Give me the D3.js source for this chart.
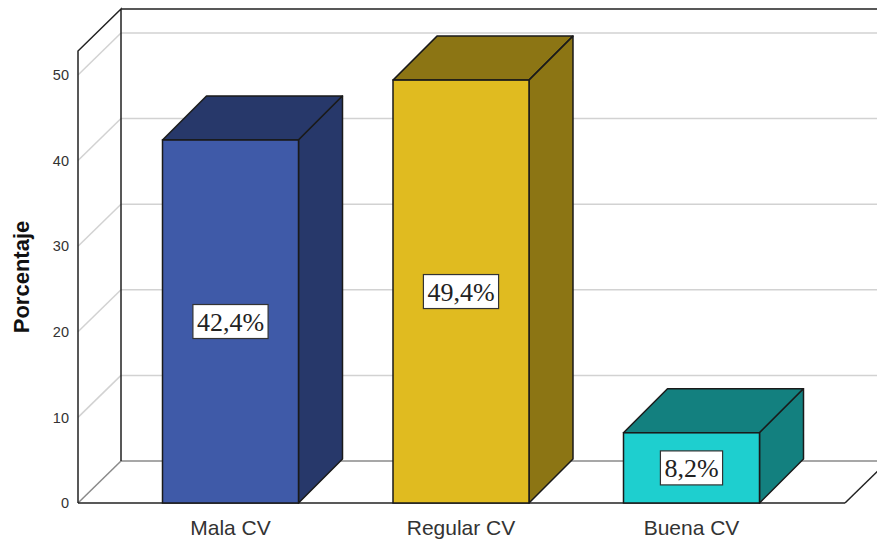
<!DOCTYPE html>
<html>
<head>
<meta charset="utf-8">
<script src="https://cdn.jsdelivr.net/npm/d3@7"></script>
<style>
  body { margin: 0; background: #fff; }
  svg { display: block; }
</style>
</head>
<body>
<div id="chart"></div>
<script>
// data
const categories = ["Mala CV", "Regular CV", "Buena CV"];
const percents = [42.4, 49.4, 8.2];
const valueLabels = ["42,4%", "49,4%", "8,2%"];
const yTicks = [0, 10, 20, 30, 40, 50];
const frontColors = ["#3f5aa8", "#e0bb20", "#1ecfcf"];
const sideColors = ["#27386a", "#8c7514", "#13807f"];

const width = 877, height = 543;
const floorY = 503, leftX = 78, rightX = 845;
const wallDx = 43, wallDy = -42;   // depth of walls
const barDx = 44, barDy = -44;     // depth of bars

const svg = d3.select("#chart").append("svg")
    .attr("width", width)
    .attr("height", height);

const y = d3.scaleLinear().domain([0, 52.8]).range([floorY, 51]);
const x = d3.scaleBand()
    .domain(categories)
    .range([115.25, 806.75])
    .paddingInner(0.41)
    .paddingOuter(0.205);

const backX = leftX + wallDx;

// back wall gridlines
svg.append("g").selectAll("line")
    .data(yTicks.slice(1))
    .enter().append("line")
    .attr("x1", backX).attr("x2", width)
    .attr("y1", d => y(d) + wallDy).attr("y2", d => y(d) + wallDy)
    .attr("stroke", "#d2d2d2").attr("stroke-width", 1.5);

// left wall gridlines
svg.append("g").selectAll("line")
    .data(yTicks.slice(1))
    .enter().append("line")
    .attr("x1", leftX).attr("x2", backX)
    .attr("y1", d => y(d)).attr("y2", d => y(d) + wallDy)
    .attr("stroke", "#d2d2d2").attr("stroke-width", 1.5);

// floor
const floor = svg.append("g").attr("fill", "none");
floor.append("line")
    .attr("x1", backX).attr("x2", width)
    .attr("y1", floorY + wallDy).attr("y2", floorY + wallDy)
    .attr("stroke", "#8a8a8a").attr("stroke-width", 1.5);
floor.append("line")
    .attr("x1", leftX).attr("y1", floorY)
    .attr("x2", backX).attr("y2", floorY + wallDy)
    .attr("stroke", "#8a8a8a").attr("stroke-width", 1.5);
floor.append("line")
    .attr("x1", rightX).attr("y1", floorY)
    .attr("x2", rightX + wallDx).attr("y2", floorY + wallDy)
    .attr("stroke", "#222").attr("stroke-width", 1.5);
floor.append("line")
    .attr("x1", leftX).attr("x2", rightX)
    .attr("y1", floorY).attr("y2", floorY)
    .attr("stroke", "#222").attr("stroke-width", 1.5);

// wall edges
const topY = y.range()[1];
svg.append("path")
    .attr("d", `M${leftX},${floorY}V${topY}L${backX},${topY + wallDy}V${floorY + wallDy}`
        + `M${backX},${topY + wallDy}H${width}`)
    .attr("fill", "none")
    .attr("stroke", "#222")
    .attr("stroke-width", 1.5);

// y axis labels
const yAxis = svg.append("g")
    .attr("transform", `translate(${leftX - 9},0)`)
    .call(d3.axisLeft(y).tickValues(yTicks).tickSize(0).tickPadding(0));
yAxis.select(".domain").remove();
yAxis.selectAll("text")
    .attr("font-family", "Arial, 'Liberation Sans', sans-serif")
    .attr("font-size", 14.5)
    .attr("fill", "#333");

svg.append("text")
    .attr("transform", `translate(29,${(floorY + topY) / 2}) rotate(-90)`)
    .attr("text-anchor", "middle")
    .attr("font-family", "Arial, 'Liberation Sans', sans-serif")
    .attr("font-weight", "bold")
    .attr("font-size", 22)
    .attr("fill", "#111")
    .text("Porcentaje");

// bars
const bw = x.bandwidth();
const bars = svg.append("g").selectAll("g")
    .data(categories)
    .enter().append("g");

bars.append("path")
    .attr("d", (d, i) => {
        const x0 = x(d), yt = y(percents[i]);
        return `M${x0},${yt}L${x0 + barDx},${yt + barDy}H${x0 + bw + barDx}L${x0 + bw},${yt}Z`;
    })
    .attr("fill", (d, i) => sideColors[i])
    .attr("stroke", "#1a1a1a").attr("stroke-width", 1.5).attr("stroke-linejoin", "round");

bars.append("path")
    .attr("d", (d, i) => {
        const x1 = x(d) + bw, yt = y(percents[i]), yb = y(0);
        return `M${x1},${yt}L${x1 + barDx},${yt + barDy}V${yb + barDy}L${x1},${yb}Z`;
    })
    .attr("fill", (d, i) => sideColors[i])
    .attr("stroke", "#1a1a1a").attr("stroke-width", 1.5).attr("stroke-linejoin", "round");

bars.append("rect")
    .attr("x", d => x(d))
    .attr("y", (d, i) => y(percents[i]))
    .attr("width", bw)
    .attr("height", (d, i) => y(0) - y(percents[i]))
    .attr("fill", (d, i) => frontColors[i])
    .attr("stroke", "#1a1a1a").attr("stroke-width", 1.5);

// value boxes
bars.each(function (d, i) {
    const g = d3.select(this);
    const cx = x(d) + bw / 2;
    const cy = (y(percents[i]) + y(0)) / 2;
    const t = g.append("text")
        .attr("x", cx).attr("y", cy + 9)
        .attr("text-anchor", "middle")
        .attr("font-family", "'Liberation Serif', 'Times New Roman', serif")
        .attr("font-size", 26)
        .attr("fill", "#222")
        .text(valueLabels[i]);
    const bb = t.node().getBBox();
    g.insert("rect", "text")
        .attr("x", cx - bb.width / 2 - 4)
        .attr("y", cy - 17)
        .attr("width", bb.width + 8)
        .attr("height", 34)
        .attr("fill", "#fff")
        .attr("stroke", "#333")
        .attr("stroke-width", 1.2);
});

// category labels
svg.append("g").selectAll("text")
    .data(categories)
    .enter().append("text")
    .attr("x", d => x(d) + bw / 2)
    .attr("y", 535)
    .attr("text-anchor", "middle")
    .attr("font-family", "Arial, 'Liberation Sans', sans-serif")
    .attr("font-size", 21)
    .attr("fill", "#333")
    .text(d => d);
</script>
</body>
</html>
